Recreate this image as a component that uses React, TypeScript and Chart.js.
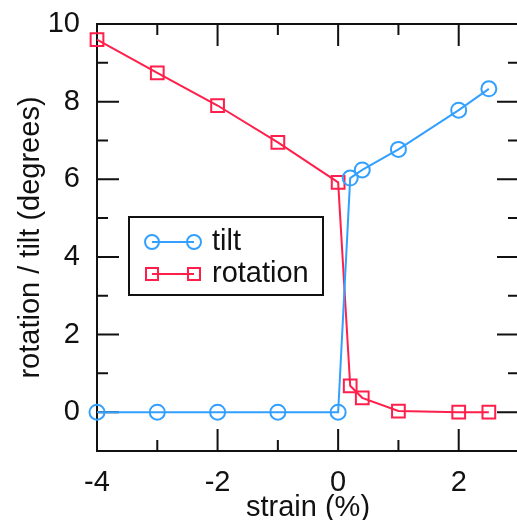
import React, { useEffect, useRef } from "react";
import { Chart, registerables } from "chart.js";

Chart.register(...registerables);

// strain (%) values where tilt and rotation were computed
const strainValues = [-4, -3, -2, -1, 0, 0.2, 0.4, 1, 2, 2.5];
// octahedral tilt angle (degrees)
const tiltValues = [0, 0, 0, 0, 0, 6.03, 6.24, 6.77, 7.78, 8.33];
// octahedral rotation angle (degrees)
const rotationValues = [9.6, 8.74, 7.9, 6.95, 5.92, 0.68, 0.37, 0.03, 0, 0];

const xTickLabels = [-4, -2, 0, 2];
const yTickLabels = [0, 2, 4, 6, 8, 10];
const xTickMarks = [-4, -3, -2, -1, 0, 1, 2, 3];
const yTickMarks = [-1, 0, 1, 2, 3, 4, 5, 6, 7, 8, 9, 10];

const TILT_COLOR = "#33a0ff";
const ROT_COLOR = "#ff1f4b";
const INK = "#111111";
const FONT_FAMILY = "'Liberation Sans', Arial, Helvetica, sans-serif";

// Full plot canvas; the frame's right edge sits just past the visible window
const CANVAS_W = 530;
const CANVAS_H = 520;

// Box frame with inward ticks on all four sides
const frameAndTicks = {
  id: "frameAndTicks",
  beforeDatasetsDraw(chart: any) {
    const { ctx, chartArea: a, scales } = chart;
    ctx.save();
    ctx.strokeStyle = INK;
    ctx.lineWidth = 2;
    ctx.strokeRect(a.left, a.top, a.right - a.left, a.bottom - a.top);
    ctx.beginPath();
    for (const v of xTickMarks) {
      const px = scales.x.getPixelForValue(v);
      const len = v % 2 === 0 ? 22 : 11;
      ctx.moveTo(px, a.bottom);
      ctx.lineTo(px, a.bottom - len);
      ctx.moveTo(px, a.top);
      ctx.lineTo(px, a.top + len);
    }
    for (const v of yTickMarks) {
      const py = scales.y.getPixelForValue(v);
      const len = v % 2 === 0 ? 22 : 11;
      ctx.moveTo(a.left, py);
      ctx.lineTo(a.left + len, py);
      ctx.moveTo(a.right, py);
      ctx.lineTo(a.right - len, py);
    }
    ctx.stroke();
    ctx.restore();
  },
};

// Boxed legend placed inside the plot
const boxedLegend = {
  id: "boxedLegend",
  afterDatasetsDraw(chart: any) {
    const { ctx } = chart;
    const box = { x: 129, y: 217, w: 194, h: 78 };
    ctx.save();
    ctx.fillStyle = "#ffffff";
    ctx.fillRect(box.x, box.y, box.w, box.h);
    ctx.strokeStyle = INK;
    ctx.lineWidth = 2;
    ctx.strokeRect(box.x, box.y, box.w, box.h);

    const entries = chart.data.datasets.map((ds: any, i: number) => ({
      label: ds.label,
      color: ds.borderColor,
      style: ds.pointStyle,
      y: box.y + 25 + i * 32,
    }));
    const x1 = 152;
    const x2 = 194;
    for (const e of entries) {
      ctx.strokeStyle = e.color;
      ctx.lineWidth = 2;
      ctx.beginPath();
      ctx.moveTo(x1, e.y);
      ctx.lineTo(x2, e.y);
      ctx.stroke();
      for (const mx of [x1, x2]) {
        ctx.beginPath();
        if (e.style === "circle") {
          ctx.arc(mx, e.y, 7, 0, Math.PI * 2);
        } else {
          ctx.rect(mx - 6, e.y - 6, 12, 12);
        }
        ctx.stroke();
      }
      ctx.fillStyle = INK;
      ctx.font = `29px ${FONT_FAMILY}`;
      ctx.textAlign = "left";
      ctx.textBaseline = "middle";
      ctx.fillText(e.label, 212, e.y);
    }
    ctx.restore();
  },
};

export default function App() {
  const canvasRef = useRef<HTMLCanvasElement | null>(null);

  useEffect(() => {
    const canvas = canvasRef.current;
    if (!canvas) return;
    const toPoints = (ys: number[]) => strainValues.map((x, i) => ({ x, y: ys[i] }));

    const chart = new Chart(canvas, {
      type: "line",
      data: {
        datasets: [
          {
            label: "tilt",
            data: toPoints(tiltValues),
            borderColor: TILT_COLOR,
            backgroundColor: "rgba(0,0,0,0)",
            borderWidth: 2,
            pointStyle: "circle",
            pointRadius: 7.5,
            pointBorderWidth: 2,
            pointBorderColor: TILT_COLOR,
            pointBackgroundColor: "rgba(0,0,0,0)",
            tension: 0,
            clip: false,
          },
          {
            label: "rotation",
            data: toPoints(rotationValues),
            borderColor: ROT_COLOR,
            backgroundColor: "rgba(0,0,0,0)",
            borderWidth: 2,
            pointStyle: "rect",
            pointRadius: 9,
            pointBorderWidth: 2,
            pointBorderColor: ROT_COLOR,
            pointBackgroundColor: "rgba(0,0,0,0)",
            tension: 0,
            clip: false,
          },
        ],
      },
      options: {
        animation: false,
        responsive: false,
        maintainAspectRatio: false,
        layout: { padding: { top: 24, right: 6, left: 0, bottom: 0 } },
        plugins: {
          legend: { display: false },
          tooltip: { enabled: false },
        },
        scales: {
          x: {
            type: "linear",
            min: -4,
            max: 3,
            grid: { display: false },
            border: { display: false },
            afterBuildTicks: (scale: any) => {
              scale.ticks = xTickLabels.map((v) => ({ value: v }));
            },
            afterFit: (scale: any) => {
              scale.height = 69;
            },
            ticks: {
              padding: 9,
              color: INK,
              font: { family: FONT_FAMILY, size: 29, lineHeight: 1 },
              maxRotation: 0,
              callback: (v: any) => String(v),
            },
            title: {
              display: true,
              text: "strain (%)",
              color: INK,
              padding: { top: 0, bottom: 0 },
              font: { family: FONT_FAMILY, size: 29, lineHeight: 0.85 },
            },
          },
          y: {
            type: "linear",
            min: -1,
            max: 10,
            grid: { display: false },
            border: { display: false },
            afterBuildTicks: (scale: any) => {
              scale.ticks = yTickLabels.map((v) => ({ value: v }));
            },
            afterFit: (scale: any) => {
              scale.width = 97;
            },
            ticks: {
              padding: 9,
              color: INK,
              font: { family: FONT_FAMILY, size: 29, lineHeight: 1 },
              callback: (v: any) => String(v),
            },
            title: {
              display: true,
              text: "rotation / tilt (degrees)",
              color: INK,
              padding: { top: 16, bottom: 0 },
              font: { family: FONT_FAMILY, size: 29, lineHeight: 1 },
            },
          },
        },
      },
      plugins: [frameAndTicks, boxedLegend],
    } as any);

    return () => chart.destroy();
  }, []);

  return (
    <div
      style={{
        position: "fixed",
        left: 0,
        top: 0,
        width: 517,
        height: 520,
        overflow: "hidden",
        background: "#ffffff",
      }}
    >
      <div style={{ width: CANVAS_W, height: CANVAS_H }}>
        <canvas
          ref={canvasRef}
          width={CANVAS_W}
          height={CANVAS_H}
          style={{ width: CANVAS_W, height: CANVAS_H, display: "block" }}
        />
      </div>
    </div>
  );
}
